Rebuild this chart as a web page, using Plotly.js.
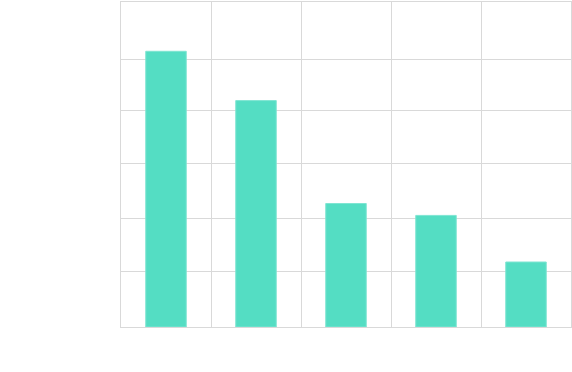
<!DOCTYPE html>
<html>
<head>
<meta charset="utf-8">
<script src="https://cdn.plot.ly/plotly-3.0.1.min.js"></script>
<style>html,body{margin:0;padding:0;background:#fff;}#chart{width:572px;height:372px;}</style>
</head>
<body>
<div id="chart"></div>
<script>
var categories = ["A", "B", "C", "D", "E"];
var values = [50.9, 41.8, 22.8, 20.6, 12.0];
var yGridValues = [10.3, 20.1, 30.2, 39.9, 49.4];

var trace = {
  type: "bar",
  x: categories,
  y: values,
  marker: {color: "#54ddc3", line: {color: "#7fe5d2", width: 1}},
  hoverinfo: "none"
};

var layout = {
  width: 572,
  height: 372,
  margin: {l: 121, r: 1, t: 2, b: 45},
  paper_bgcolor: "#ffffff",
  plot_bgcolor: "#ffffff",
  showlegend: false,
  bargap: 0.55,
  xaxis: {
    type: "category",
    tickson: "boundaries",
    showgrid: true,
    gridcolor: "#d9d9d9",
    gridwidth: 1,
    showticklabels: false,
    ticks: "",
    showline: true,
    linecolor: "#d9d9d9",
    linewidth: 1,
    mirror: true,
    zeroline: false
  },
  yaxis: {
    range: [0, 60],
    tickmode: "array",
    tickvals: yGridValues,
    showgrid: true,
    gridcolor: "#d9d9d9",
    gridwidth: 1,
    showticklabels: false,
    ticks: "",
    showline: true,
    linecolor: "#d9d9d9",
    linewidth: 1,
    mirror: true,
    zeroline: false
  }
};

Plotly.newPlot("chart", [trace], layout, {displayModeBar: false, staticPlot: true});
</script>
</body>
</html>
